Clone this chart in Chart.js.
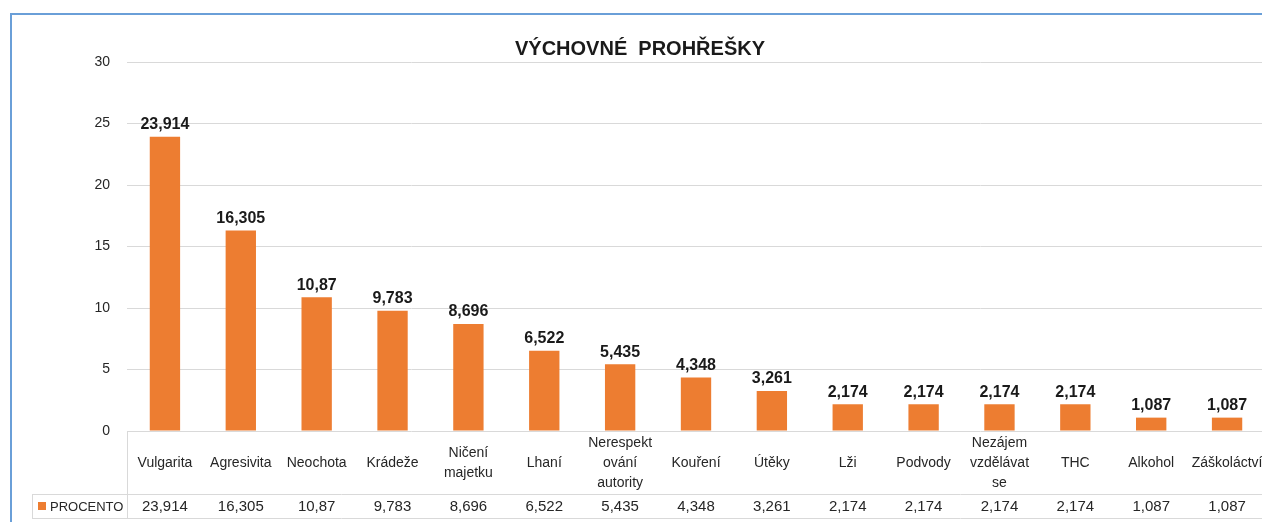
<!DOCTYPE html>
<html lang="cs">
<head>
<meta charset="utf-8">
<title>Výchovné prohřešky</title>
<script src="https://cdn.jsdelivr.net/npm/chart.js@4/dist/chart.umd.min.js"></script>
<style>
  html, body { margin: 0; padding: 0; background: #fff; overflow: hidden; }
  #wrap { width: 1262px; height: 522px; overflow: hidden; }
  canvas { display: block; }
</style>
</head>
<body>
<div id="wrap"><canvas id="chart" width="1270" height="522"></canvas></div>
<script>
const title = "VÝCHOVNÉ  PROHŘEŠKY";
const seriesName = "PROCENTO";
const categories = [
  ["Vulgarita"], ["Agresivita"], ["Neochota"], ["Krádeže"], ["Ničení", "majetku"],
  ["Lhaní"], ["Nerespekt", "ování", "autority"], ["Kouření"], ["Útěky"], ["Lži"],
  ["Podvody"], ["Nezájem", "vzdělávat", "se"], ["THC"], ["Alkohol"], ["Záškoláctví"],
];
const values = [23.914, 16.305, 10.87, 9.783, 8.696, 6.522, 5.435, 4.348, 3.261, 2.174, 2.174, 2.174, 2.174, 1.087, 1.087];
const yTicks = [0, 5, 10, 15, 20, 25, 30];

const FONT = "'Liberation Sans', Arial, sans-serif";
const ORANGE = "#ed7d31";
const GRID = "#d9d9d9";
const TEXT = "#262626";

// cs formát: desetinná čárka
const fmt = (v) => String(v).replace(".", ",");

const decorPlugin = {
  id: "decor",
  beforeDraw(chart) {
    const ctx = chart.ctx;
    ctx.save();
    // modrý rámeček grafu (pokračuje za okraj)
    ctx.strokeStyle = "#6a9fd8";
    ctx.lineWidth = 2;
    ctx.strokeRect(11, 14, 2000, 1000);
    ctx.restore();
  },
  afterDatasetsDraw(chart) {
    const ctx = chart.ctx;
    const x = chart.scales.x;
    const area = chart.chartArea;
    const meta = chart.getDatasetMeta(0);
    ctx.save();

    // titulek
    ctx.fillStyle = "#1a1a1a";
    ctx.font = `bold 20px ${FONT}`;
    ctx.textAlign = "center";
    ctx.textBaseline = "middle";
    ctx.fillText(title, 640, 49);

    // popisky hodnot nad sloupci
    ctx.font = `bold 16px ${FONT}`;
    meta.data.forEach((bar, i) => {
      ctx.fillText(fmt(values[i]), bar.x, bar.y - 12);
    });

    // tabulka dat
    const rowTop = area.bottom;
    const rowMid = rowTop + 63;
    const rowBot = rowMid + 24;
    ctx.strokeStyle = GRID;
    ctx.lineWidth = 1;
    ctx.beginPath();
    ctx.moveTo(32, rowMid + 0.5); ctx.lineTo(chart.width, rowMid + 0.5);
    ctx.moveTo(32, rowBot + 0.5); ctx.lineTo(chart.width, rowBot + 0.5);
    ctx.moveTo(area.left + 0.5, rowTop); ctx.lineTo(area.left + 0.5, rowBot);
    ctx.moveTo(32.5, rowMid); ctx.lineTo(32.5, rowBot);
    ctx.stroke();

    ctx.fillStyle = TEXT;
    ctx.font = `14px ${FONT}`;
    categories.forEach((lines, i) => {
      const cx = x.getPixelForValue(i);
      const lh = 20;
      const y0 = rowTop + 32 - ((lines.length - 1) * lh) / 2;
      lines.forEach((t, j) => ctx.fillText(t, cx, y0 + j * lh));
    });

    ctx.font = `15px ${FONT}`;
    values.forEach((v, i) => {
      ctx.fillText(fmt(v), x.getPixelForValue(i), rowMid + 13);
    });

    // legenda v tabulce
    ctx.fillStyle = ORANGE;
    ctx.fillRect(38, rowMid + 8, 8, 8);
    ctx.fillStyle = TEXT;
    ctx.font = `13px ${FONT}`;
    ctx.textAlign = "left";
    ctx.fillText(seriesName, 50, rowMid + 13);
    ctx.restore();
  },
};

new Chart(document.getElementById("chart"), {
  type: "bar",
  data: {
    labels: categories.map((c) => c.join(" ")),
    datasets: [
      {
        label: seriesName,
        data: values,
        backgroundColor: ORANGE,
        borderWidth: 0,
        barPercentage: 0.4,
        categoryPercentage: 1,
      },
    ],
  },
  options: {
    responsive: false,
    animation: false,
    devicePixelRatio: 1,
    layout: { padding: { top: 62, right: 5, bottom: 91, left: 0 } },
    plugins: {
      legend: { display: false },
      tooltip: { enabled: false },
      title: { display: false },
    },
    scales: {
      x: { display: false },
      y: {
        min: 0,
        max: 30,
        afterFit: (s) => { s.width = 127; },
        afterBuildTicks: (s) => { s.ticks = yTicks.map((v) => ({ value: v })); },
        ticks: {
          padding: 17,
          color: TEXT,
          font: { family: FONT, size: 14 },
        },
        grid: { color: GRID, drawTicks: false },
        border: { display: false },
      },
    },
  },
  plugins: [decorPlugin],
});
</script>
</body>
</html>
